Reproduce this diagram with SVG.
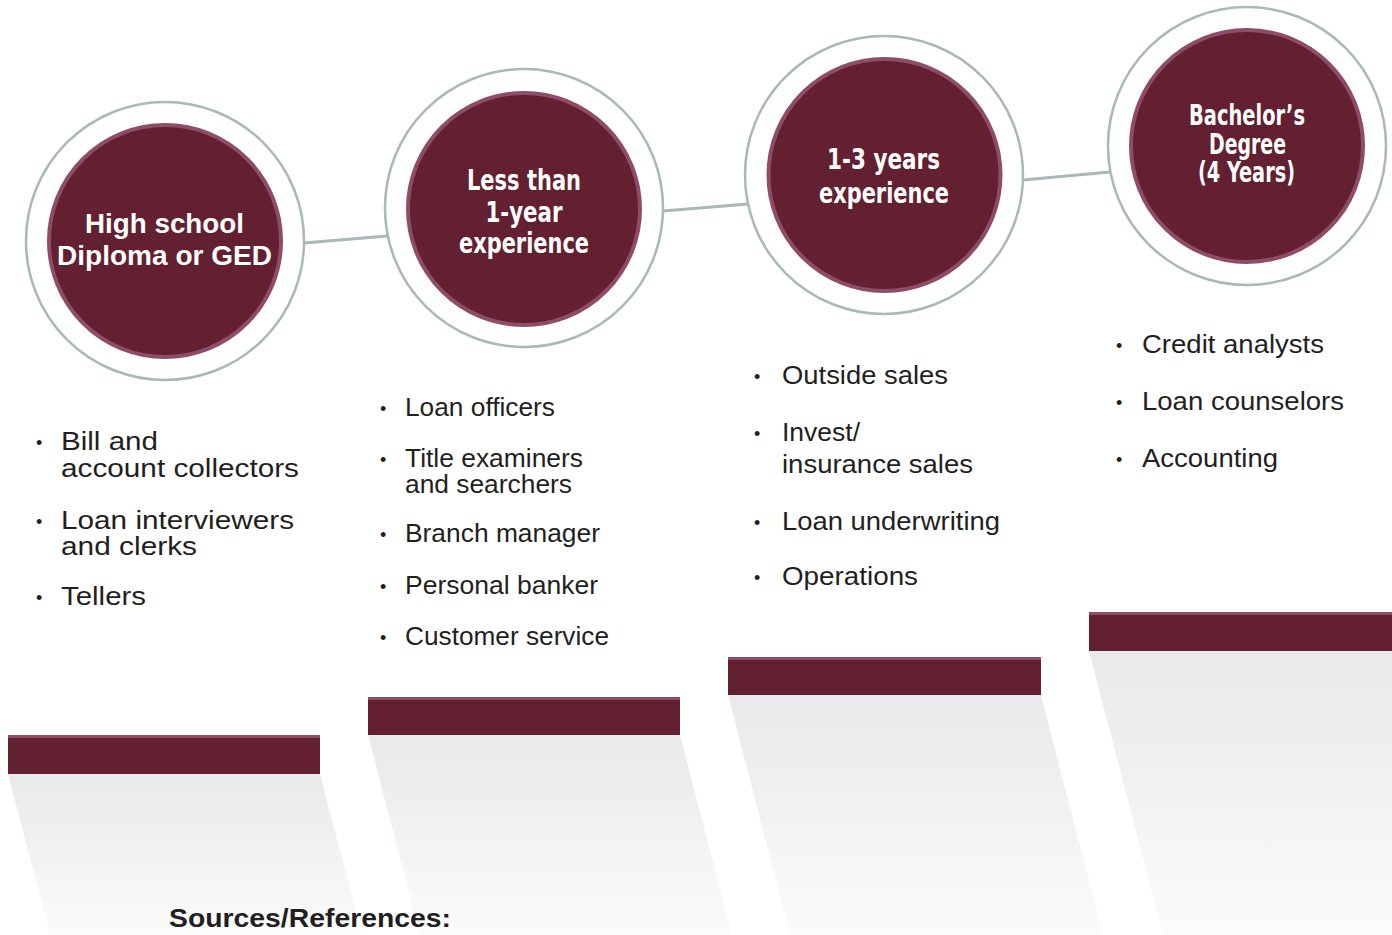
<svg xmlns="http://www.w3.org/2000/svg" width="1392" height="935" viewBox="0 0 1392 935">
  <defs>
    <linearGradient id="shade" x1="0" y1="0" x2="0" y2="1">
      <stop offset="0" stop-color="#e7e9ea"/>
      <stop offset="1" stop-color="#fbfbfb"/>
    </linearGradient>
    <style>
      .ring { fill: #ffffff; stroke: #a9b8b8; stroke-width: 2.5; }
      .core { fill: #632030; stroke: #8e4c66; stroke-width: 4; }
      .link { stroke: #a9b8b8; stroke-width: 3; fill: none; stroke-linecap: round; }
      .bar { fill: #632030; }
      .barTop { fill: #8e4c66; }
      .shadow { fill: url(#shade); }
      .head { font-family: "Liberation Sans", Arial, sans-serif; font-weight: bold; font-size: 28px; fill: #ffffff; text-anchor: middle; }
      .headN { font-family: "Liberation Sans Narrow", "Arial Narrow", "DejaVu Sans Condensed", "Liberation Sans", sans-serif; font-stretch: condensed; font-weight: bold; font-size: 28px; fill: #ffffff; text-anchor: middle; }
      .item { font-family: "Liberation Sans", Arial, sans-serif; font-size: 26px; fill: #231f20; }
      .dot { font-family: "Liberation Sans", Arial, sans-serif; font-size: 18px; fill: #231f20; }
      .note { font-family: "Liberation Sans", Arial, sans-serif; font-weight: bold; font-size: 26px; fill: #231f20; }
    </style>
  </defs>

  <rect width="1392" height="935" fill="#ffffff"/>

  <!-- step shadows fanning down from each bar -->
  <g id="shadows">
    <polygon class="shadow" points="8,774 320,774 362,935 50,935"/>
    <polygon class="shadow" points="368,735 680,735 732,935 420,935"/>
    <polygon class="shadow" points="728,695 1041,695 1103,935 790,935"/>
    <polygon class="shadow" points="1089,651 1392,651 1392,935 1163,935"/>
  </g>

  <!-- connectors between the rings -->
  <g id="connectors">
    <line class="link" x1="304" y1="243" x2="387" y2="236"/>
    <line class="link" x1="663" y1="211" x2="748" y2="204"/>
    <line class="link" x1="1023" y1="180" x2="1110" y2="172"/>
  </g>

  <!-- step 1 -->
  <g id="step-highschool">
    <circle class="ring" cx="165" cy="241" r="139"/>
    <circle class="core" cx="165" cy="241" r="116"/>
    <text class="head" x="164.5" y="233" textLength="159" lengthAdjust="spacingAndGlyphs">High school</text>
    <text class="head" x="164.5" y="265" textLength="215" lengthAdjust="spacingAndGlyphs">Diploma or GED</text>
    <text class="dot" x="36" y="449">•</text>
    <text class="item" x="61" y="450" textLength="97" lengthAdjust="spacingAndGlyphs">Bill and</text>
    <text class="item" x="61" y="477" textLength="238" lengthAdjust="spacingAndGlyphs">account collectors</text>
    <text class="dot" x="36" y="528">•</text>
    <text class="item" x="61" y="529" textLength="233" lengthAdjust="spacingAndGlyphs">Loan interviewers</text>
    <text class="item" x="61" y="555" textLength="136" lengthAdjust="spacingAndGlyphs">and clerks</text>
    <text class="dot" x="36" y="604">•</text>
    <text class="item" x="61" y="605" textLength="85" lengthAdjust="spacingAndGlyphs">Tellers</text>
    <rect class="bar" x="8" y="735" width="312" height="39"/>
    <rect class="barTop" x="8" y="735" width="312" height="3"/>
  </g>

  <!-- step 2 -->
  <g id="step-under-one-year">
    <circle class="ring" cx="524" cy="208" r="139"/>
    <circle class="core" cx="524" cy="209" r="116"/>
    <text class="headN" x="524" y="190" textLength="114" lengthAdjust="spacingAndGlyphs">Less than</text>
    <text class="headN" x="524" y="222" textLength="77" lengthAdjust="spacingAndGlyphs">1-year</text>
    <text class="headN" x="524" y="253" textLength="130" lengthAdjust="spacingAndGlyphs">experience</text>
    <text class="dot" x="380" y="415">•</text>
    <text class="item" x="405" y="416" textLength="150" lengthAdjust="spacingAndGlyphs">Loan officers</text>
    <text class="dot" x="380" y="466">•</text>
    <text class="item" x="405" y="467" textLength="178" lengthAdjust="spacingAndGlyphs">Title examiners</text>
    <text class="item" x="405" y="493" textLength="167" lengthAdjust="spacingAndGlyphs">and searchers</text>
    <text class="dot" x="380" y="541">•</text>
    <text class="item" x="405" y="542" textLength="195" lengthAdjust="spacingAndGlyphs">Branch manager</text>
    <text class="dot" x="380" y="593">•</text>
    <text class="item" x="405" y="594" textLength="193" lengthAdjust="spacingAndGlyphs">Personal banker</text>
    <text class="dot" x="380" y="644">•</text>
    <text class="item" x="405" y="645" textLength="204" lengthAdjust="spacingAndGlyphs">Customer service</text>
    <rect class="bar" x="368" y="697" width="312" height="38"/>
    <rect class="barTop" x="368" y="697" width="312" height="3"/>
  </g>

  <!-- step 3 -->
  <g id="step-one-to-three">
    <circle class="ring" cx="884" cy="175" r="139"/>
    <circle class="core" cx="884.5" cy="175" r="116"/>
    <text class="headN" x="883.5" y="169" textLength="113" lengthAdjust="spacingAndGlyphs">1-3 years</text>
    <text class="headN" x="884" y="203" textLength="130" lengthAdjust="spacingAndGlyphs">experience</text>
    <text class="dot" x="754" y="383">•</text>
    <text class="item" x="782" y="384" textLength="166" lengthAdjust="spacingAndGlyphs">Outside sales</text>
    <text class="dot" x="754" y="440">•</text>
    <text class="item" x="782" y="441" textLength="78" lengthAdjust="spacingAndGlyphs">Invest/</text>
    <text class="item" x="782" y="473" textLength="191" lengthAdjust="spacingAndGlyphs">insurance sales</text>
    <text class="dot" x="754" y="529">•</text>
    <text class="item" x="782" y="530" textLength="218" lengthAdjust="spacingAndGlyphs">Loan underwriting</text>
    <text class="dot" x="754" y="584">•</text>
    <text class="item" x="782" y="585" textLength="136" lengthAdjust="spacingAndGlyphs">Operations</text>
    <rect class="bar" x="728" y="657" width="313" height="38"/>
    <rect class="barTop" x="728" y="657" width="313" height="3"/>
  </g>

  <!-- step 4 -->
  <g id="step-bachelors">
    <circle class="ring" cx="1247" cy="146" r="139"/>
    <circle class="core" cx="1247" cy="146" r="116"/>
    <text class="headN" x="1247" y="125" font-size="26.5" textLength="116" lengthAdjust="spacingAndGlyphs">Bachelor’s</text>
    <text class="headN" x="1247.5" y="154" font-size="26.5" textLength="77" lengthAdjust="spacingAndGlyphs">Degree</text>
    <text class="headN" x="1246.5" y="182" font-size="26.5" textLength="97" lengthAdjust="spacingAndGlyphs">(4 Years)</text>
    <text class="dot" x="1116" y="352">•</text>
    <text class="item" x="1142" y="353" textLength="182" lengthAdjust="spacingAndGlyphs">Credit analysts</text>
    <text class="dot" x="1116" y="409">•</text>
    <text class="item" x="1142" y="410" textLength="202" lengthAdjust="spacingAndGlyphs">Loan counselors</text>
    <text class="dot" x="1116" y="466">•</text>
    <text class="item" x="1142" y="467" textLength="136" lengthAdjust="spacingAndGlyphs">Accounting</text>
    <rect class="bar" x="1089" y="612" width="303" height="39"/>
    <rect class="barTop" x="1089" y="612" width="303" height="3"/>
  </g>

  <text class="note" x="169" y="927" textLength="282" lengthAdjust="spacingAndGlyphs">Sources/References:</text>
</svg>
